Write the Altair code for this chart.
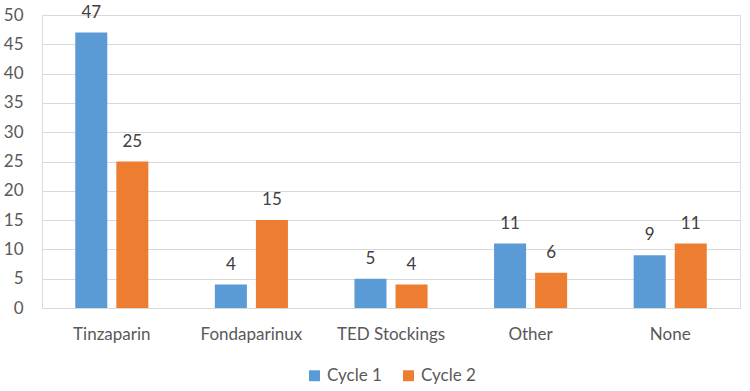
import altair as alt
import pandas as pd

categories = ["Tinzaparin", "Fondaparinux", "TED Stockings", "Other", "None"]
cycle1 = [47, 4, 5, 11, 9]
cycle2 = [25, 15, 4, 6, 11]
series = ["Cycle 1", "Cycle 2"]
colors = ["#5B9BD5", "#ED7D31"]
y_ticks = [0, 5, 10, 15, 20, 25, 30, 35, 40, 45, 50]

rows = []
for c, a, b in zip(categories, cycle1, cycle2):
    rows.append({"category": c, "series": "Cycle 1", "value": a})
    rows.append({"category": c, "series": "Cycle 2", "value": b})
df = pd.DataFrame(rows)

FONT = "Lato"
GREY = "#595959"

x = alt.X("category:N", sort=categories, title=None,
          scale=alt.Scale(paddingInner=0, paddingOuter=0),
          axis=alt.Axis(labelAngle=0, labelFontSize=17, labelColor=GREY,
                        labelFont=FONT, domain=False, ticks=False,
                        labelPadding=18, grid=False))
xo = alt.XOffset("series:N", sort=series,
                 scale=alt.Scale(paddingInner=0.22, paddingOuter=0.81))
y = alt.Y("value:Q", title=None,
          scale=alt.Scale(domain=[0, 50], nice=False),
          axis=alt.Axis(values=y_ticks, labelOverlap=False,
                        labelFontSize=17, labelColor=GREY,
                        labelFont=FONT, domain=False, ticks=False,
                        labelPadding=19, gridColor="#d9d9d9", gridWidth=1.2))

color = alt.Color("series:N", sort=series, title=None,
                  scale=alt.Scale(domain=series, range=colors),
                  legend=alt.Legend(orient="none", direction="horizontal",
                                    legendX=264, legendY=352,
                                    symbolType="square", symbolSize=120,
                                    symbolStrokeWidth=0,
                                    labelFontSize=17, labelColor=GREY,
                                    labelFont=FONT, columnPadding=18,
                                    labelOffset=4))

base = alt.Chart(df).encode(x=x, xOffset=xo, y=y)
bars = base.mark_bar().encode(color=color)
labels = base.mark_text(dy=-20, fontSize=17, color="#404040",
                        font=FONT).encode(text="value:Q")

chart = alt.layer(bars, labels).properties(
    width=698, height=293,
    autosize=alt.AutoSizeParams(type="none"),
    padding={"left": 42, "top": 15, "right": 10, "bottom": 83},
).configure_view(stroke=None).configure(background="white")

chart.save("out.html", embed_options={"renderer": "svg", "actions": False})
